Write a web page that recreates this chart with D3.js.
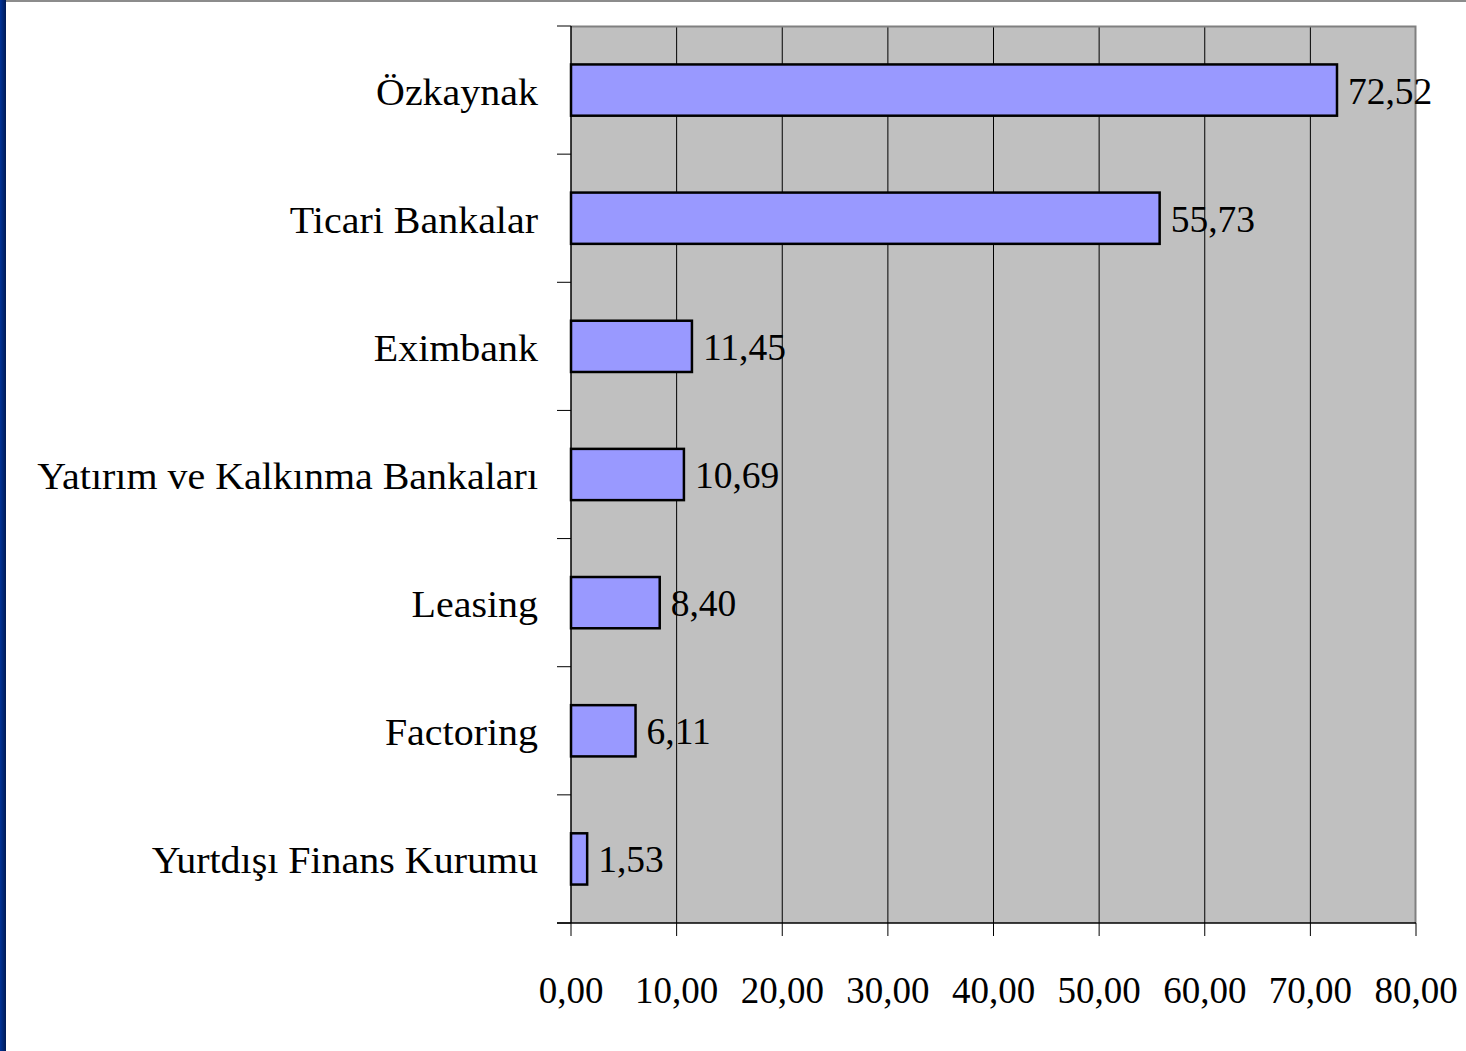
<!DOCTYPE html>
<html><head><meta charset="utf-8">
<script src="https://cdn.jsdelivr.net/npm/d3@7"></script>
<style>body{margin:0;background:#fff;overflow:hidden}svg{display:block}</style>
</head><body>
<svg id="c" width="1466" height="1051"></svg>
<script>
const categories = ["Özkaynak","Ticari Bankalar","Eximbank","Yatırım ve Kalkınma Bankaları","Leasing","Factoring","Yurtdışı Finans Kurumu"];
const values = [72.52,55.73,11.45,10.69,8.40,6.11,1.53];
const xTicks = [0,10,20,30,40,50,60,70,80];

const svg = d3.select("#c");
const fmt = v => v.toFixed(2).replace(".", ",");
const font = "'Liberation Serif','Times New Roman',serif";
const L = 571, R = 1416, T = 26, B = 923;

// left blue border & top gray line
const g0 = svg.append("defs").append("linearGradient").attr("id","lb").attr("x1",0).attr("x2",1);
g0.append("stop").attr("offset",0).attr("stop-color","#003399");
g0.append("stop").attr("offset",1).attr("stop-color","#001a55");
svg.append("rect").attr("x",0).attr("y",0).attr("width",6).attr("height",1051).attr("fill","url(#lb)");
svg.append("rect").attr("x",6).attr("y",0).attr("width",1460).attr("height",2).attr("fill","#8c8c8c");

const x = d3.scaleLinear().domain([0,80]).range([L,R]);
const y = d3.scaleBand().domain(categories).range([T,B]).paddingInner(0.6).paddingOuter(0.3);

svg.append("rect").attr("x",L).attr("y",T).attr("width",R-L).attr("height",B-T).attr("fill","#c0c0c0");
// grid
svg.append("g").selectAll("line").data(xTicks.slice(1,-1)).join("line")
  .attr("x1",d=>x(d)).attr("x2",d=>x(d)).attr("y1",T).attr("y2",B)
  .attr("stroke","#000").attr("stroke-width",1);
// top/right border
svg.append("path").attr("d",`M${L},${T+0.5}H${R-0.5}V${B}`).attr("fill","none").attr("stroke","#808080").attr("stroke-width",2);

// bars
svg.append("g").selectAll("rect").data(values).join("rect")
  .attr("x",x(0)).attr("y",(d,i)=>y(categories[i]))
  .attr("width",d=>x(d)-x(0)).attr("height",y.bandwidth())
  .attr("fill","#9999ff").attr("stroke","#000").attr("stroke-width",2.5);

// value labels
svg.append("g").selectAll("text").data(values).join("text")
  .attr("x",d=>x(d)+11).attr("y",(d,i)=>y(categories[i])+y.bandwidth()/2)
  .attr("dy","0.36em").attr("font-family",font).attr("font-size",37.5)
  .attr("fill","#000").text(fmt);

// y axis
const step = (B-T)/categories.length;
const ya = svg.append("g");
ya.append("line").attr("x1",L).attr("x2",L).attr("y1",T).attr("y2",B).attr("stroke","#000").attr("stroke-width",1.5);
ya.selectAll("line.t").data(d3.range(categories.length+1)).join("line").attr("class","t")
  .attr("x1",L-14).attr("x2",L).attr("y1",i=>T+i*step).attr("y2",i=>T+i*step)
  .attr("stroke","#000").attr("stroke-width",1);
ya.selectAll("text").data(categories).join("text")
  .attr("transform",d=>`translate(538,${y(d)+y.bandwidth()/2}) scale(1.08,1)`)
  .attr("dy","0.39em")
  .attr("text-anchor","end").attr("font-family",font).attr("font-size",37)
  .attr("fill","#000").text(d=>d);

// x axis
const xa = svg.append("g");
xa.append("line").attr("x1",L-14).attr("x2",R).attr("y1",B).attr("y2",B).attr("stroke","#000").attr("stroke-width",1.5);
xa.selectAll("line.t").data(xTicks).join("line").attr("class","t")
  .attr("x1",d=>x(d)).attr("x2",d=>x(d)).attr("y1",B).attr("y2",B+13)
  .attr("stroke","#000").attr("stroke-width",1);
xa.selectAll("text").data(xTicks).join("text")
  .attr("x",d=>x(d)).attr("y",1003).attr("text-anchor","middle")
  .attr("font-family",font).attr("font-size",37)
  .attr("fill","#000").text(fmt);
</script>
</body></html>
